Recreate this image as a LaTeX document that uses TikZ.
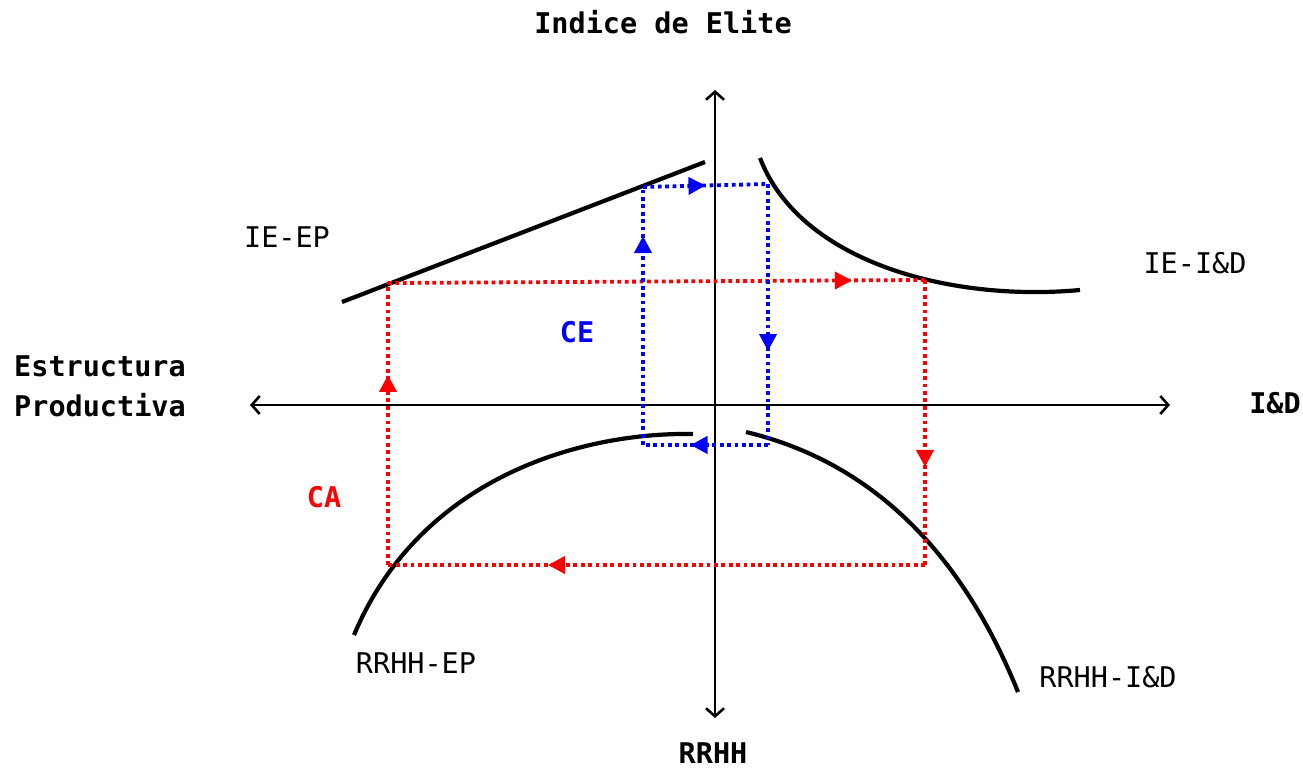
\documentclass[tikz,border=0pt]{standalone}
\usepackage{fontspec}
\setmainfont{DejaVu Sans Mono}
\usetikzlibrary{arrows.meta,decorations.markings}
\tikzset{
  lbl/.style={font=\fontsize{28.5}{34}\selectfont, inner sep=0pt},
  blbl/.style={font=\fontsize{28.5}{34}\selectfont\bfseries, inner sep=0pt},
  axis/.style={line width=2.6pt, {Straight Barb[length=8pt,width=18pt,line width=2.6pt]}-{Straight Barb[length=8pt,width=18pt,line width=2.6pt]}},
  curve/.style={line width=4.2pt},
  flow/.style={line width=3.8pt, dash pattern=on 3.8pt off 3.6pt},
  redflow/.style={flow, draw=red},
  blueflow/.style={flow, draw=blue},
  tipat/.style={postaction={decorate}, decoration={markings, mark=at position #1 with {\arrow{Triangle[length=17pt,width=17pt]}}}},
}
\begin{document}
\begin{tikzpicture}[x=1pt,y=-1pt]
\useasboundingbox (0,0) rectangle (1303,768);
% axes
\coordinate (vt) at (715,90);
\coordinate (vb) at (715,718);
\coordinate (hl) at (250,405);
\coordinate (hr) at (1170,405);
\draw[axis] (vt) -- (vb);
\draw[axis] (hl) -- (hr);
% curves
\coordinate (ep1) at (342,302);
\coordinate (ep2) at (705,162);
\draw[curve] (ep1) -- (ep2);
\coordinate (id1) at (760,158);
\coordinate (id2) at (1080,290);
\draw[curve] (id1) .. controls (800,262) and (950,302) .. (id2);
\coordinate (rep1) at (354,635);
\coordinate (rep2) at (693,434);
\draw[curve] (rep1) .. controls (420,478) and (580,432) .. (rep2);
\coordinate (rid1) at (746,432);
\coordinate (rid2) at (1018,692);
\draw[curve] (rid1) .. controls (905,470) and (980,598) .. (rid2);
% red cycle
\coordinate (r1) at (388,283);
\coordinate (r2) at (925,280);
\coordinate (r3) at (925,565);
\coordinate (r4) at (388,565);
\draw[redflow, tipat=0.864, red] (r1) -- (r2);
\draw[redflow, tipat=0.656, red] (r2) -- (r3);
\draw[redflow, tipat=0.702, red] (r3) -- (r4);
\draw[redflow, tipat=0.674, red] (r4) -- (r1);
% blue cycle
\coordinate (b1) at (643,445);
\coordinate (b2) at (643,187);
\coordinate (b3) at (768,184);
\coordinate (b4) at (768,445);
\draw[blueflow, tipat=0.81, blue] (b1) -- (b2);
\draw[blueflow, tipat=0.5, blue] (b2) -- (b3);
\draw[blueflow, tipat=0.64, blue] (b3) -- (b4);
\draw[blueflow, tipat=0.62, blue] (b4) -- (b1);
% labels
\node[blbl] (title) at (663,22) {Indice de Elite};
\node[blbl] (rrhh) at (713,753) {RRHH};
\node[blbl] (idx) at (1275,403) {I\&D};
\node[blbl, anchor=west, align=left, font=\fontsize{28.5}{40}\selectfont\bfseries] (ep) at (14,386) {Estructura\\Productiva};
\node[lbl] (ieep) at (287,237) {IE-EP};
\node[lbl] (ieid) at (1195,263) {IE-I\&D};
\node[blbl, text=blue] (ce) at (577,332) {CE};
\node[blbl, text=red] (ca) at (324,497) {CA};
\node[lbl] (rrhhep) at (416,663) {RRHH-EP};
\node[lbl] (rrhhid) at (1108,677) {RRHH-I\&D};
\end{tikzpicture}
\end{document}
